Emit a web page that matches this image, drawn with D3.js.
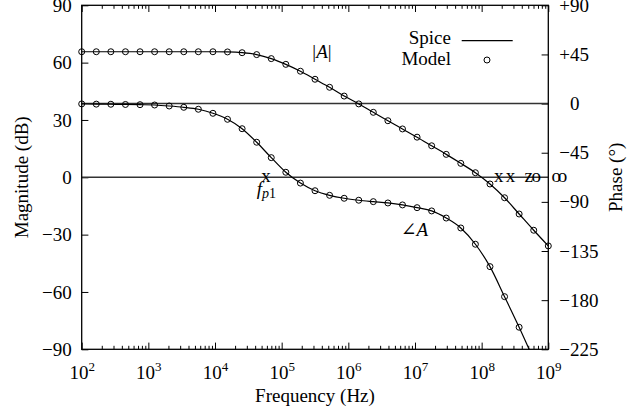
<!DOCTYPE html>
<html>
<head>
<meta charset="utf-8">
<script src="https://cdn.jsdelivr.net/npm/d3@7"></script>
<style>
  body { margin: 0; background: #fff; }
  svg text { font-family: "Liberation Serif", "DejaVu Serif", serif !important; fill: #000; }
</style>
</head>
<body>
<div id="general"></div>
<script>
const w = 637, h = 414;
const m = { l: 81.7, r: 637 - 548.3, t: 5.3, b: 414 - 349.3 };

// sample frequencies (Hz), evenly spaced on a log axis
const freqs = [100, 165.5, 273.8, 453.2, 749.9, 1241, 2054, 3398, 5623, 9306,
  15399, 25483, 42170, 69783, 115478, 191095, 316228, 523299, 865964, 1433010,
  2371374, 3924190, 6493816, 10746078, 17782794, 29427271, 48696753, 80584219,
  133352143, 220673407, 365174127, 604296390, 1e9];

// |A| in dB
const magDb = [65.7, 65.7, 65.7, 65.7, 65.7, 65.7, 65.7, 65.7, 65.7, 65.7,
  65.6, 65.2, 64.2, 62.1, 59.1, 55.5, 51.3, 47.1, 42.5, 38.4,
  34.0, 29.6, 25.3, 21.0, 16.5, 12.0, 7.3, 2.4, -3.5, -10.7,
  -19.2, -27.7, -35.9];

// angle A in degrees (last point falls below the axis and is clipped)
const phaseDeg = [-0.3, -0.5, -0.6, -0.8, -1.0, -1.3, -2.2, -3.4, -5.2, -8.9,
  -14.4, -23.0, -35.4, -49.5, -62.9, -72.8, -79.8, -84.0, -86.7, -88.5,
  -89.8, -91.0, -92.8, -95.3, -98.3, -104.8, -113.9, -128.8, -149.3, -176.8,
  -204.8, -234.4];

const decades = [1e2, 1e3, 1e4, 1e5, 1e6, 1e7, 1e8, 1e9];
const magTicks = [-90, -60, -30, 0, 30, 60, 90];
const phaseTicks = [-225, -180, -135, -90, -45, 0, 45, 90];

// pole / zero glyphs on the 0 dB line
const pzMarks = [
  { f: 5.83e4, s: "x" },
  { f: 1.80e8, s: "x" },
  { f: 2.72e8, s: "x" },
  { f: 5.08e8, s: "z" },
  { f: 6.59e8, s: "o" },
  { f: 1.32e9, s: "o" },
  { f: 1.63e9, s: "o" }
];

const pw = w - m.l - m.r, ph = h - m.t - m.b;
const fontSize = 19;
const serif = '"Liberation Serif", "DejaVu Serif", serif';

const svg = d3.select("#general").append("svg").attr("width", w).attr("height", h)
  .attr("font-family", serif);
const g = svg.append("g").attr("transform", `translate(${m.l},${m.t})`);

const x = d3.scaleLog().domain([1e2, 1e9]).range([0, pw]);
const yMag = d3.scaleLinear().domain([-90, 90]).range([ph, 0]);
const yPh = d3.scaleLinear().domain([-225, 90]).range([ph, 0]);

svg.append("defs").append("clipPath").attr("id", "plotclip")
  .append("rect").attr("width", pw).attr("height", ph);

const minus = v => v < 0 ? "\u2212" + Math.abs(v) : String(v);

const minor = [];
decades.slice(0, -1).forEach(d => { for (let k = 2; k < 10; k++) minor.push(d * k); });

// bottom / top ticks
function xTicks(axisFn, y0) {
  g.append("g").attr("transform", `translate(0,${y0})`)
    .call(axisFn(x).tickValues(minor).tickSize(-3.5).tickFormat(""))
    .call(a => a.select(".domain").remove());
  return g.append("g").attr("transform", `translate(0,${y0})`)
    .call(axisFn(x).tickValues(decades).tickSize(-6.7).tickFormat(""))
    .call(a => a.select(".domain").remove());
}
const bottomAx = xTicks(d3.axisBottom, ph);
xTicks(d3.axisTop, 0);

bottomAx.selectAll(".tick").append("text")
  .attr("y", 29.7)
  .attr("text-anchor", "middle")
  .attr("font-size", fontSize)
  .each(function(d) {
    const t = d3.select(this);
    t.append("tspan").text("10");
    t.append("tspan").attr("font-size", 13).attr("dy", -8).text(Math.round(Math.log10(d)));
  });

// left magnitude axis
g.append("g")
  .call(d3.axisLeft(yMag).tickValues(magTicks).tickSize(-6.7).tickPadding(10).tickFormat(minus))
  .call(a => a.select(".domain").remove())
  .call(a => a.selectAll("text").attr("font-size", fontSize));

// right phase axis
const rightAx = g.append("g").attr("transform", `translate(${pw},0)`)
  .call(d3.axisRight(yPh).tickValues(phaseTicks).tickSize(-6.7).tickPadding(11).tickFormat(""))
  .call(a => a.select(".domain").remove());
rightAx.selectAll(".tick text")
  .attr("font-size", fontSize)
  .each(function(d) {
    const t = d3.select(this);
    if (d > 0) t.text("+" + d);
    else if (d < 0) t.text("\u2212" + Math.abs(d));
    else {
      t.append("tspan").attr("visibility", "hidden").text("+");
      t.append("tspan").text("0");
    }
  });

g.selectAll(".tick line").attr("stroke", "#000").attr("stroke-width", 1);
g.selectAll("g").attr("font-family", serif);

// reference lines at 0 dB and 0 deg
g.append("line").attr("x1", 0).attr("x2", pw).attr("y1", yMag(0)).attr("y2", yMag(0))
  .attr("stroke", "#333").attr("stroke-width", 1.5);
g.append("line").attr("x1", 0).attr("x2", pw).attr("y1", yPh(0)).attr("y2", yPh(0))
  .attr("stroke", "#333").attr("stroke-width", 1.5);

// frame
g.append("rect").attr("width", pw).attr("height", ph)
  .attr("fill", "none").attr("stroke", "#000").attr("stroke-width", 1.3);

const plot = g.append("g").attr("clip-path", "url(#plotclip)");

const magPts = freqs.map((f, i) => [f, magDb[i]]);
const phPts = phaseDeg.map((p, i) => [freqs[i], p]);

plot.append("path")
  .attr("fill", "none").attr("stroke", "#000").attr("stroke-width", 1.2)
  .attr("d", d3.line().x(d => x(d[0])).y(d => yMag(d[1])).curve(d3.curveMonotoneX)(magPts));
plot.append("path")
  .attr("fill", "none").attr("stroke", "#000").attr("stroke-width", 1.2)
  .attr("d", d3.line().x(d => x(d[0])).y(d => yPh(d[1])).curve(d3.curveMonotoneX)(phPts));

g.append("g").selectAll("circle").data(magPts).join("circle")
  .attr("cx", d => x(d[0])).attr("cy", d => yMag(d[1])).attr("r", 3)
  .attr("fill", "none").attr("stroke", "#000").attr("stroke-width", 1);
g.append("g").selectAll("circle").data(phPts.filter(d => d[1] >= -225)).join("circle")
  .attr("cx", d => x(d[0])).attr("cy", d => yPh(d[1])).attr("r", 3)
  .attr("fill", "none").attr("stroke", "#000").attr("stroke-width", 1);

// pole/zero glyphs
g.append("g").selectAll("text").data(pzMarks).join("text")
  .attr("x", d => x(d.f)).attr("y", yMag(0) + 4.3)
  .attr("text-anchor", "middle").attr("font-size", fontSize)
  .text(d => d.s);

// annotations
const fp = g.append("text").attr("x", 256.7 - m.l).attr("y", 195.5 - m.t).attr("font-size", fontSize);
fp.append("tspan").attr("font-style", "italic").text("f");
fp.append("tspan").attr("font-size", 14).attr("dy", 3).attr("font-style", "italic").text("p");
fp.append("tspan").attr("font-size", 14).text("1");

const absA = g.append("text").attr("x", 322 - m.l).attr("y", 58 - m.t)
  .attr("text-anchor", "middle").attr("font-size", fontSize);
absA.append("tspan").text("|");
absA.append("tspan").attr("font-style", "italic").text("A");
absA.append("tspan").text("|");

const angA = g.append("text").attr("x", 400.7 - m.l).attr("y", 236.5 - m.t).attr("font-size", fontSize);
angA.append("tspan").text("\u2220");
angA.append("tspan").attr("font-style", "italic").text("A");

// legend
const lg = g.append("g");
lg.append("text").attr("x", 451 - m.l).attr("y", 44 - m.t).attr("text-anchor", "end")
  .attr("font-size", fontSize).text("Spice");
lg.append("text").attr("x", 451 - m.l).attr("y", 65 - m.t).attr("text-anchor", "end")
  .attr("font-size", fontSize).text("Model");
lg.append("line").attr("x1", 461.7 - m.l).attr("x2", 512.7 - m.l)
  .attr("y1", 40.7 - m.t).attr("y2", 40.7 - m.t).attr("stroke", "#000").attr("stroke-width", 1.2);
lg.append("circle").attr("cx", 487 - m.l).attr("cy", 60 - m.t).attr("r", 3)
  .attr("fill", "none").attr("stroke", "#000").attr("stroke-width", 1);

// axis titles
svg.append("text").attr("x", m.l + pw / 2).attr("y", 402)
  .attr("text-anchor", "middle").attr("font-size", fontSize).text("Frequency (Hz)");
svg.append("text").attr("transform", `translate(28,${m.t + ph / 2}) rotate(-90)`)
  .attr("text-anchor", "middle").attr("font-size", fontSize).text("Magnitude (dB)");
svg.append("text").attr("transform", `translate(622,${m.t + ph / 2}) rotate(-90)`)
  .attr("text-anchor", "middle").attr("font-size", fontSize).text("Phase (\u00b0)");
</script>
</body>
</html>
